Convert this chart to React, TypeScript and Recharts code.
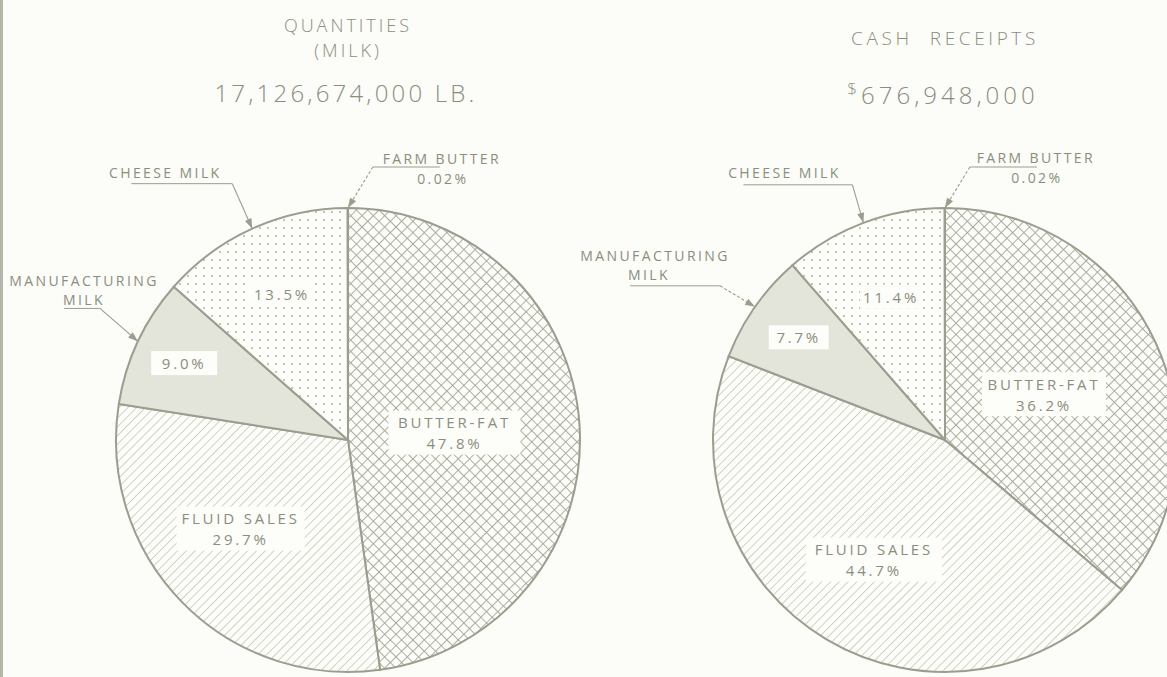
import { PieChart, Pie, Cell } from 'recharts';

// shares of milk marketings, clockwise from 12 o'clock
const categories = ['BUTTER-FAT', 'FLUID SALES', 'MANUFACTURING MILK', 'CHEESE MILK', 'FARM BUTTER'];
const quantityShares = [47.8, 29.7, 9.0, 13.5, 0.02];
const cashShares = [36.2, 44.7, 7.7, 11.4, 0.02];

const chartTitles = ['QUANTITIES', 'CASH  RECEIPTS'];
const chartSubtitles = ['(MILK)', ''];
const chartTotals = ['17,126,674,000 LB.', '676,948,000'];
const totalPrefixes = ['', '$'];

const INK = '#8a8e7e';
const LINE = '#9a9e8f';
const FONT = "'Open Sans', 'DejaVu Sans', sans-serif";
const RAD = Math.PI / 180;

const fills = ['url(#crossHatch)', 'url(#diagHatch)', '#e3e5db', 'url(#dots)', 'url(#crossHatch)'];

// in-slice labels: fraction of radius, angle tweak, white box size
type Inside = { r: number; da: number; w: number; h: number; named: boolean } | null;
const leftInside: Inside[] = [
  { r: 0.46, da: 0, w: 132, h: 44, named: true },
  { r: 0.6, da: 5, w: 128, h: 44, named: true },
  { r: 0.78, da: 0, w: 66, h: 24, named: false },
  { r: 0.69, da: 0, w: 62, h: 24, named: false },
  null,
];
const rightInside: Inside[] = [
  { r: 0.47, da: 0, w: 124, h: 44, named: true },
  { r: 0.6, da: 0, w: 136, h: 44, named: true },
  { r: 0.77, da: 0, w: 60, h: 24, named: false },
  { r: 0.66, da: 0, w: 62, h: 24, named: false },
  null,
];

// callouts: offsets relative to the arrow tip on the rim
type Callout = { text: [number, number][]; under: [number, number, number]; dashed: boolean };
const leftCallouts: Record<number, Callout> = {
  2: { text: [[-54, -61], [-54, -42]], under: [-74, -38, -33], dashed: false },
  3: { text: [[-87, -56]], under: [-121, -20, -45], dashed: false },
  4: { text: [[94, -50], [95, -30]], under: [92, 25, -41], dashed: true },
};
const rightCallouts: Record<number, Callout> = {
  2: { text: [[-100, -51], [-106, -32]], under: [-125, -35, -21], dashed: true },
  3: { text: [[-79, -50]], under: [-120, -11, -38], dashed: false },
  4: { text: [[91, -51], [92, -31]], under: [92, 25, -41], dashed: true },
};

const fmtPct = (v: number) => (v < 0.1 ? v.toFixed(2) : v.toFixed(1)) + '%';

const polar = (cx: number, cy: number, r: number, a: number) => ({
  x: cx + r * Math.cos(-a * RAD),
  y: cy + r * Math.sin(-a * RAD),
});

const arrowHead = (fx: number, fy: number, tx: number, ty: number) => {
  const len = Math.hypot(tx - fx, ty - fy) || 1;
  const dx = (tx - fx) / len;
  const dy = (ty - fy) / len;
  const bx = tx - dx * 10;
  const by = ty - dy * 10;
  return `${tx},${ty} ${bx - dy * 3.5},${by + dx * 3.5} ${bx + dy * 3.5},${by - dx * 3.5}`;
};

const smallText = { fontFamily: FONT, fontSize: 14, letterSpacing: 2.4, fill: INK } as const;
const pctText = { ...smallText, fontSize: 15, letterSpacing: 2.8 } as const;

const makeLabel = (shares: number[], inside: Inside[], callouts: Record<number, Callout>) => (props: any) => {
  const { cx, cy, midAngle, outerRadius, index } = props;
  const pct = fmtPct(shares[index]);
  const parts: any[] = [];

  const lay = inside[index];
  if (lay) {
    const p = polar(cx, cy, outerRadius * lay.r, midAngle - lay.da);
    parts.push(
      <rect key="box" x={p.x - lay.w / 2} y={p.y - lay.h / 2} width={lay.w} height={lay.h} fill="#fdfdf9" />
    );
    if (lay.named) {
      parts.push(
        <text key="n" x={p.x} y={p.y - 10.5} textAnchor="middle" dominantBaseline="central" style={pctText}>
          {categories[index]}
        </text>,
        <text key="v" x={p.x} y={p.y + 10.5} textAnchor="middle" dominantBaseline="central" style={pctText}>
          {pct}
        </text>
      );
    } else {
      parts.push(
        <text key="v" x={p.x} y={p.y} textAnchor="middle" dominantBaseline="central" style={pctText}>
          {pct}
        </text>
      );
    }
  }

  const co = callouts[index];
  if (co) {
    const tip = polar(cx, cy, outerRadius, midAngle);
    const lines =
      index === 2 ? categories[2].split(' ') : index === 4 ? [categories[4], pct] : [categories[index]];
    const [ux1, ux2, uy] = co.under;
    const ex = tip.x + ux2;
    const ey = tip.y + uy;
    lines.forEach((t, i) => {
      parts.push(
        <text key={'c' + i} x={tip.x + co.text[i][0]} y={tip.y + co.text[i][1]} textAnchor="middle"
          dominantBaseline="central" style={smallText}>{t}</text>
      );
    });
    parts.push(
      <line key="u" x1={tip.x + ux1} y1={ey} x2={ex} y2={ey} stroke={LINE} strokeWidth={1} />,
      <line key="l" x1={ex} y1={ey} x2={tip.x} y2={tip.y} stroke={LINE} strokeWidth={1.1}
        strokeDasharray={co.dashed ? '3 2' : undefined} />,
      <polygon key="a" points={arrowHead(ex, ey, tip.x, tip.y)} fill={LINE} />
    );
  }
  return <g>{parts}</g>;
};

const toData = (shares: number[]) => categories.map((name, i) => ({ name, value: shares[i] }));

const pies = [
  { shares: quantityShares, cx: 348, cy: 440, inside: leftInside, callouts: leftCallouts, titleY: 25, totalY: 92 },
  { shares: cashShares, cx: 945, cy: 440, inside: rightInside, callouts: rightCallouts, titleY: 38, totalY: 94 },
];

const titleStyle = { fontFamily: FONT, fill: INK, fontWeight: 300 } as const;

const App = () => {
  return (
    <div style={{ position: 'absolute', left: 0, top: 0, width: 1167, height: 677, background: '#fcfcf8', overflow: 'hidden' }}>
      <div style={{ position: 'absolute', left: 0, top: 0, width: 3, height: 677, background: '#b4b7aa' }} />
      <svg width={1167} height={677} style={{ position: 'absolute', left: 0, top: 0 }}>
        <defs>
          <pattern id="crossHatch" width={8} height={8} patternUnits="userSpaceOnUse" patternTransform="rotate(45)">
            <rect width={8} height={8} fill="#fdfdf9" />
            <line x1={0} y1={0} x2={8} y2={0} stroke="#a2a696" strokeWidth={1.8} />
            <line x1={0} y1={0} x2={0} y2={8} stroke="#a2a696" strokeWidth={1.8} />
          </pattern>
          <pattern id="diagHatch" width={6.2} height={6.2} patternUnits="userSpaceOnUse" patternTransform="rotate(45)">
            <rect width={6.2} height={6.2} fill="#fdfdf9" />
            <line x1={0} y1={0} x2={0} y2={6.2} stroke="#a4a898" strokeWidth={1} />
          </pattern>
          <pattern id="dots" width={8} height={8} patternUnits="userSpaceOnUse">
            <rect width={8} height={8} fill="#fdfdf9" />
            <circle cx={4} cy={4} r={0.9} fill="#a9ac9d" />
          </pattern>
        </defs>
        {pies.map((p, i) => (
          <g key={i}>
            <text x={p.cx} y={p.titleY} textAnchor="middle" dominantBaseline="central"
              style={{ ...titleStyle, fontSize: i === 0 ? 18 : 19, letterSpacing: i === 0 ? 3 : 3.6, whiteSpace: 'pre' }}>
              {chartTitles[i]}
            </text>
            {chartSubtitles[i] && (
              <text x={p.cx} y={50} textAnchor="middle" dominantBaseline="central"
                style={{ ...titleStyle, fontSize: 18, letterSpacing: 3 }}>{chartSubtitles[i]}</text>
            )}
            <text x={p.cx - 2} y={p.totalY} textAnchor="middle" dominantBaseline="central"
              style={{ ...titleStyle, fontSize: 24, letterSpacing: i === 0 ? 3.2 : 4 }}>
              {totalPrefixes[i] && <tspan fontSize={17} dy={-6}>{totalPrefixes[i]}</tspan>}
              {totalPrefixes[i] ? <tspan dy={6}>{chartTotals[i]}</tspan> : chartTotals[i]}
            </text>
          </g>
        ))}
      </svg>
      <div style={{ position: 'absolute', left: 0, top: 0 }}>
        <PieChart width={1167} height={677} margin={{ top: 0, right: 0, bottom: 0, left: 0 }}>
          {pies.map((p, i) => (
            <Pie
              key={i}
              data={toData(p.shares)}
              dataKey="value"
              nameKey="name"
              cx={p.cx}
              cy={p.cy}
              outerRadius={232}
              startAngle={90}
              endAngle={-270}
              stroke={LINE}
              strokeWidth={2}
              isAnimationActive={false}
              labelLine={false}
              label={makeLabel(p.shares, p.inside, p.callouts)}
            >
              {categories.map((c, j) => (
                <Cell key={c} fill={fills[j]} stroke={LINE} strokeWidth={2} />
              ))}
            </Pie>
          ))}
        </PieChart>
      </div>
    </div>
  );
};

export default App;
